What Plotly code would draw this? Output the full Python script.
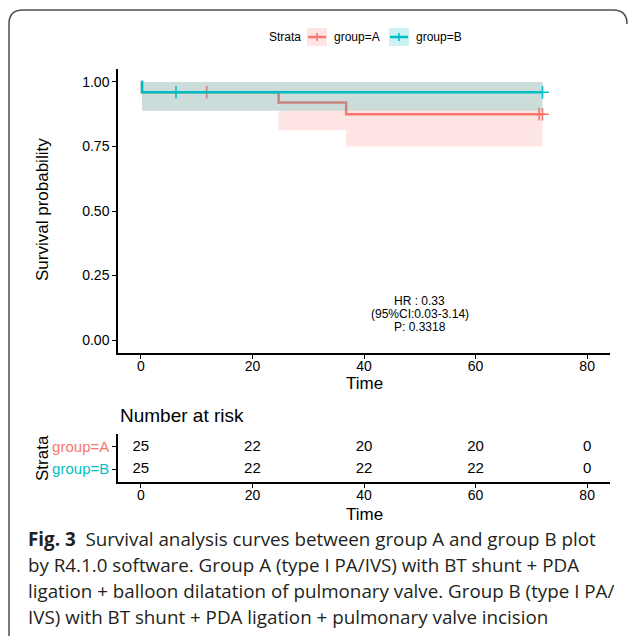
import plotly.graph_objects as go

# ---------------- data ----------------
groups = ["group=A", "group=B"]
colors = ["#F8766D", "#00BFC4"]
fills = ["rgba(248,118,109,0.2)", "rgba(0,191,196,0.2)"]

time_A = [0, 0.2, 24.7, 36.8, 72]
surv_A = [1.0, 0.96, 0.92, 0.875, 0.875]
ci_time_A = [0.2, 24.7, 36.8, 72]
ci_low_A = [0.888, 0.813, 0.75, 0.75]
ci_up_A = [1.0, 1.0, 1.0, 1.0]
cens_time_A = [11.8, 71.4, 72]
cens_surv_A = [0.96, 0.875, 0.875]

time_B = [0, 0.2, 72]
surv_B = [1.0, 0.96, 0.96]
ci_time_B = [0.2, 72]
ci_low_B = [0.888, 0.888]
ci_up_B = [1.0, 1.0]
cens_time_B = [6.3, 72]
cens_surv_B = [0.96, 0.96]

risk_times = [0, 20, 40, 60, 80]
risk_A = [25, 22, 20, 20, 0]
risk_B = [25, 22, 22, 22, 0]

x_ticks = [0, 20, 40, 60, 80]
y_ticks = [0, 0.25, 0.5, 0.75, 1.0]
y_ticklabels = ["0.00", "0.25", "0.50", "0.75", "1.00"]

hr_lines = ["HR : 0.33", "(95%CI:0.03-3.14)", "P: 0.3318"]
hr_x = 50
hr_y = [0.15, 0.10, 0.05]

caption_lines = [
    "<b>Fig. 3</b>  Survival analysis curves between group A and group B plot",
    "by R4.1.0 software. Group A (type I PA/IVS) with BT shunt + PDA",
    "ligation + balloon dilatation of pulmonary valve. Group B (type I PA/",
    "IVS) with BT shunt + PDA ligation + pulmonary valve incision",
]

# ---------------- layout geometry ----------------
W, H = 629, 637
FONT = "Liberation Sans, Arial, sans-serif"
CAP_FONT = "Open Sans, Noto Sans, sans-serif"


def px(x):
    return x / W


def py(y):
    return 1 - y / H


fig = go.Figure()


def add_group(t, s, ct, lo, up, cx, cy, col, fillc):
    fig.add_trace(go.Scatter(x=ct, y=lo, mode="lines", line=dict(width=0, shape="hv"),
                             showlegend=False, hoverinfo="skip", xaxis="x", yaxis="y"))
    fig.add_trace(go.Scatter(x=ct, y=up, mode="lines", line=dict(width=0, shape="hv"),
                             fill="tonexty", fillcolor=fillc, showlegend=False,
                             hoverinfo="skip", xaxis="x", yaxis="y"))
    fig.add_trace(go.Scatter(x=t, y=s, mode="lines", line=dict(color=col, width=2.5, shape="hv"),
                             showlegend=False, xaxis="x", yaxis="y"))
    fig.add_trace(go.Scatter(x=cx, y=cy, mode="markers",
                             marker=dict(symbol="cross-thin", size=9, line=dict(color=col, width=1.6)),
                             showlegend=False, xaxis="x", yaxis="y"))


add_group(time_A, surv_A, ci_time_A, ci_low_A, ci_up_A, cens_time_A, cens_surv_A, colors[0], fills[0])
add_group(time_B, surv_B, ci_time_B, ci_low_B, ci_up_B, cens_time_B, cens_surv_B, colors[1], fills[1])

# risk table
fig.add_trace(go.Scatter(x=risk_times, y=[2] * len(risk_times), mode="text",
                         text=[str(v) for v in risk_A], textfont=dict(family=FONT, size=15, color="black"),
                         showlegend=False, xaxis="x2", yaxis="y2"))
fig.add_trace(go.Scatter(x=risk_times, y=[1] * len(risk_times), mode="text",
                         text=[str(v) for v in risk_B], textfont=dict(family=FONT, size=15, color="black"),
                         showlegend=False, xaxis="x2", yaxis="y2"))

axis_common = dict(showline=True, linecolor="black", linewidth=1.5, ticks="outside",
                   ticklen=4, tickwidth=1.2, tickcolor="black", showgrid=False, zeroline=False,
                   tickfont=dict(family=FONT, size=14, color="black"))

fig.update_layout(
    width=W, height=H, margin=dict(l=0, r=0, t=0, b=0),
    paper_bgcolor="white", plot_bgcolor="white",
    xaxis=dict(domain=[px(118), px(610)], range=[-4.1, 84.1], tickvals=x_ticks,
               anchor="y", ticklabelstandoff=-5, **axis_common),
    yaxis=dict(domain=[py(353), py(69)], range=[-0.05, 1.05], tickvals=y_ticks,
               ticktext=y_ticklabels, anchor="x", **axis_common),
    xaxis2=dict(domain=[px(118), px(610)], range=[-4.1, 84.1], tickvals=x_ticks,
                anchor="y2", ticklabelstandoff=-5, **axis_common),
    yaxis2=dict(domain=[py(482), py(434)], range=[0.42, 2.58], tickvals=[2, 1],
                ticktext=[f'<span style="color:{colors[0]}">{groups[0]}</span>',
                          f'<span style="color:{colors[1]}">{groups[1]}</span>'],
                anchor="x2", **{**axis_common, "tickfont": dict(family=FONT, size=15)}),
    showlegend=False,
)

ann = []


def text_ann(x, y, txt, size, xanchor="center", yanchor="middle", angle=0, family=FONT, color="black"):
    ann.append(dict(x=px(x), y=py(y), xref="paper", yref="paper", text=txt, showarrow=False,
                    xanchor=xanchor, yanchor=yanchor, textangle=angle,
                    font=dict(family=family, size=size, color=color)))


# HR text
for yy, txt in zip(hr_y, hr_lines):
    ann.append(dict(x=hr_x, y=yy, xref="x", yref="y", text=txt, showarrow=False,
                    font=dict(family=FONT, size=12, color="black"), xanchor="center", yanchor="middle"))
# axis titles
text_ann(364, 384, "Time", 17)
text_ann(43, 210, "Survival probability", 17, angle=-90)
text_ann(118, 415, "Number at risk", 19, xanchor="left")
text_ann(42, 458, "Strata", 17, angle=-90)
text_ann(364, 514, "Time", 17)

# legend (manual)
text_ann(303, 37, "Strata", 12, xanchor="right")
text_ann(332, 37, groups[0], 12, xanchor="left")
text_ann(414, 37, groups[1], 12, xanchor="left")

# caption
for i, line in enumerate(caption_lines):
    text_ann(26, 539 + 26 * i, line, 18.8, xanchor="left", family=CAP_FONT, color="#231f20")
fig.update_layout(annotations=ann)

shapes = []
for (x0, col, fc) in [(307, colors[0], fills[0]), (389, colors[1], fills[1])]:
    shapes.append(dict(type="rect", xref="paper", yref="paper", x0=px(x0), x1=px(x0 + 20),
                       y0=py(46), y1=py(28), fillcolor=fc, line=dict(width=0)))
    shapes.append(dict(type="line", xref="paper", yref="paper", x0=px(x0 + 1), x1=px(x0 + 19),
                       y0=py(37), y1=py(37), line=dict(color=col, width=2.5)))
    shapes.append(dict(type="line", xref="paper", yref="paper", x0=px(x0 + 10), x1=px(x0 + 10),
                       y0=py(33), y1=py(41), line=dict(color=col, width=1.6)))
# rounded frame
r = 14
x0f, y0f, x1f, y1f = 9, 10, 627, 636
path = (f"M {px(x0f)},{py(y1f)} L {px(x0f)},{py(y0f + r)} "
        f"Q {px(x0f)},{py(y0f)} {px(x0f + r)},{py(y0f)} "
        f"L {px(x1f - r)},{py(y0f)} Q {px(x1f)},{py(y0f)} {px(x1f)},{py(y0f + r)}")
shapes.append(dict(type="path", xref="paper", yref="paper", path=path,
                   line=dict(color="#4d4d4d", width=1.5)))
fig.update_layout(shapes=shapes)

fig.write_html("out.html", config={"displayModeBar": False},
               post_script="document.body.style.margin='0';document.body.style.overflow='hidden';")
